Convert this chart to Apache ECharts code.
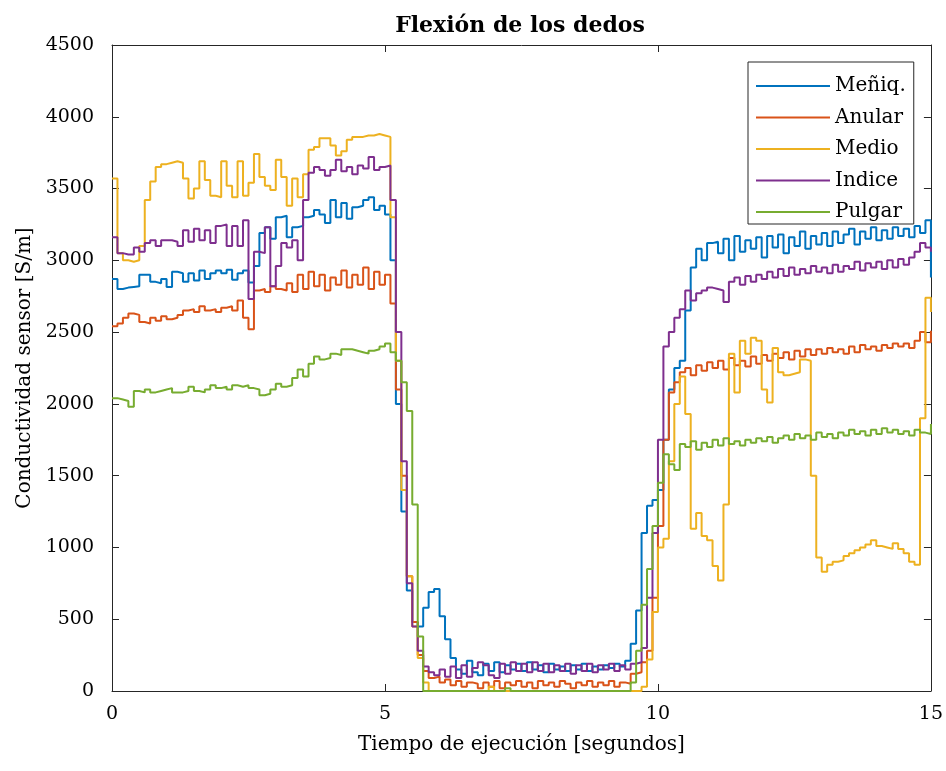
<!DOCTYPE html>
<html>
<head>
<meta charset="utf-8">
<script src="https://cdn.jsdelivr.net/npm/echarts@6/dist/echarts.min.js"></script>
<style>
  html, body { margin: 0; padding: 0; background: #fff; }
  #main { width: 946px; height: 771px; }
</style>
</head>
<body>
<div id="main"></div>
<script>
// muestreo cada 0.1 s, de 0 a 15 s
const dt = 0.1
const nombres = ['Meñiq.', 'Anular', 'Medio', 'Indice', 'Pulgar']
const colores = ['#0072BD', '#D95319', '#EDB120', '#7E2F8E', '#77AC30']
const xTicks = [0, 5, 10, 15]
const yTicks = [0, 500, 1000, 1500, 2000, 2500, 3000, 3500, 4000, 4500]

const meniq = [
  2870, 2800, 2810, 2815, 2820, 2900, 2900, 2850, 2840, 2870,
  2815, 2920, 2910, 2850, 2910, 2860, 2930, 2870, 2910, 2930,
  2910, 2935, 2865, 2910, 2930, 2845, 2960, 3190, 3230, 3150,
  3300, 3310, 3160, 3230, 3240, 3300, 3310, 3350, 3320, 3260,
  3420, 3300, 3400, 3290, 3370, 3380, 3420, 3440, 3350, 3380,
  3320, 3000, 2000, 1250, 700, 480, 450, 580, 690, 710,
  520, 360, 230, 150, 120, 210, 130, 110, 190, 140,
  200, 130, 180, 150, 190, 140, 200, 150, 180, 130,
  190, 150, 170, 140, 180, 150, 190, 140, 170, 150,
  180, 160, 190, 170, 210, 330, 560, 1100, 1290, 1330,
  1400, 1750, 2100, 2250, 2300, 2650, 2950, 3080, 3000, 3120,
  3130, 3050, 3150, 3000, 3170, 3060, 3140, 3080, 3160, 3020,
  3170, 3090, 3180, 3050, 3160, 3100, 3200, 3080, 3170, 3110,
  3190, 3100, 3200, 3120, 3180, 3220, 3110, 3200, 3150, 3230,
  3140, 3210, 3150, 3230, 3170, 3220, 3160, 3240, 3190, 3280,
  2880
]
const anular = [
  2540, 2560, 2600, 2630, 2620, 2570, 2560, 2600, 2580, 2610,
  2590, 2600, 2620, 2650, 2660, 2640, 2680, 2650, 2660, 2640,
  2670, 2680, 2650, 2720, 2600, 2520, 2790, 2800, 2780, 2820,
  2800, 2790, 2840, 2780, 2900, 2800, 2920, 2820, 2900, 2790,
  2880, 2830, 2930, 2810, 2900, 2830, 2950, 2800, 2920, 2830,
  2900, 2700, 2100, 1500, 800, 480, 250, 140, 90, 100,
  60, 80, 40, 70, 30, 60, 50, 20, 60, 30,
  70, 20, 60, 40, 70, 30, 60, 20, 70, 40,
  60, 30, 70, 50, 20, 60, 40, 70, 30, 60,
  40, 70, 30, 60, 50, 120, 130, 200, 280, 650,
  1150, 1750, 2080, 2150, 2220, 2250, 2200, 2270, 2230, 2290,
  2250, 2300, 2240, 2320, 2270, 2300, 2260, 2330, 2280, 2340,
  2300, 2350, 2320, 2360, 2310, 2370, 2330, 2380, 2340, 2380,
  2350, 2390, 2360, 2380, 2350, 2400, 2360, 2410, 2380, 2400,
  2370, 2410, 2390, 2420, 2400, 2420, 2390, 2440, 2500, 2430,
  2510
]
const medio = [
  3570, 3050, 3000, 2990, 3000, 3100, 3420, 3550, 3650, 3670,
  3680, 3690, 3680, 3570, 3430, 3500, 3690, 3560, 3450, 3440,
  3690, 3520, 3440, 3690, 3450, 3540, 3740, 3580, 3520, 3490,
  3700, 3580, 3380, 3570, 3440, 3600, 3770, 3790, 3850, 3850,
  3800, 3730, 3760, 3840, 3860, 3860, 3870, 3870, 3880, 3870,
  3860, 3300, 2300, 1400, 800, 450, 230, 60, 0, 0,
  0, 0, 0, 0, 0, 0, 0, 0, 0, 30,
  0, 0, 0, 0, 0, 0, 0, 0, 0, 0,
  0, 0, 0, 0, 0, 0, 0, 0, 0, 0,
  0, 0, 0, 0, 0, 0, 0, 30, 220, 550,
  1000, 1060, 1600, 2000, 2190, 1930, 1130, 1240, 1080, 1050,
  870, 770, 1300, 2350, 2080, 2440, 2350, 2460, 2440, 2100,
  2010, 2390, 2220, 2200, 2210, 2220, 2310, 2300, 1500, 930,
  830, 880, 900, 910, 940, 960, 980, 1000, 1020, 1050,
  1010, 1000, 990, 1030, 990, 960, 900, 880, 1900, 2740,
  2640
]
const indice = [
  3160, 3050, 3040, 3040, 3090, 3060, 3120, 3140, 3100, 3140,
  3140, 3130, 3100, 3210, 3130, 3220, 3140, 3210, 3120, 3240,
  3250, 3100, 3240, 3100, 3280, 2730, 3060, 3050, 3230, 2820,
  2960, 3120, 3090, 3140, 3000, 3420, 3610, 3650, 3630, 3590,
  3630, 3700, 3620, 3650, 3600, 3660, 3640, 3720, 3630, 3650,
  3660, 3420, 2500, 1600, 750, 450, 280, 170, 130, 110,
  150, 100, 170, 90, 180, 100, 160, 200, 180, 110,
  90, 190, 120, 200, 140, 190, 130, 200, 140, 190,
  130, 180, 140, 190, 120, 180, 140, 190, 130, 180,
  150, 190, 140, 180, 150, 190, 200, 300, 650, 1100,
  1750, 2400, 2500, 2600, 2660, 2790, 2720, 2770, 2790, 2810,
  2800, 2790, 2710, 2850, 2880, 2830, 2890, 2850, 2900, 2870,
  2920, 2880, 2940, 2890, 2950, 2900, 2940, 2910, 2960, 2920,
  2950, 2910, 2970, 2920, 2960, 2940, 2990, 2930, 2980, 2950,
  2990, 2940, 3000, 2950, 3010, 2970, 3020, 3060, 3120, 3090,
  3060
]
const pulgar = [
  2040, 2030, 2020, 1980, 2090, 2080, 2100, 2080, 2090, 2100,
  2110, 2080, 2080, 2090, 2120, 2090, 2080, 2100, 2130, 2110,
  2120, 2100, 2130, 2120, 2130, 2110, 2100, 2060, 2070, 2100,
  2140, 2120, 2130, 2180, 2240, 2190, 2280, 2330, 2310, 2320,
  2350, 2340, 2380, 2380, 2370, 2360, 2350, 2370, 2380, 2400,
  2420, 2360, 2300, 2150, 1950, 1300, 380, 0, 0, 0,
  0, 0, 0, 0, 0, 0, 0, 0, 0, 0,
  0, 0, 20, 0, 0, 0, 0, 0, 0, 0,
  0, 0, 0, 0, 0, 0, 0, 0, 0, 0,
  0, 0, 0, 0, 0, 60, 280, 600, 850, 1150,
  1450, 1650, 1580, 1540, 1720, 1700, 1740, 1680, 1730, 1700,
  1750, 1710, 1760, 1720, 1740, 1710, 1750, 1730, 1760, 1740,
  1770, 1730, 1760, 1780, 1750, 1790, 1760, 1780, 1750, 1800,
  1770, 1790, 1760, 1800, 1780, 1820, 1790, 1810, 1780, 1820,
  1790, 1830, 1800, 1820, 1790, 1810, 1780, 1820, 1800, 1790,
  1860
]
const senales = [meniq, anular, medio, indice, pulgar]

const fuente = 'DejaVu Serif'
const gris = '#262626'

var myChart = echarts.init(document.querySelector('#main'))

const ejeX = (pos, conTexto) => ({
  type: 'value',
  position: pos,
  min: xTicks[0],
  max: xTicks[xTicks.length - 1],
  interval: 5,
  axisLine: { show: true, onZero: false, lineStyle: { color: gris, width: 1 } },
  axisTick: { show: true, inside: true, length: 7, lineStyle: { color: gris } },
  axisLabel: { show: conTexto, color: '#000', fontFamily: fuente, fontSize: 19, margin: 14 },
  splitLine: { show: false }
})
const ejeY = (pos, conTexto) => ({
  type: 'value',
  position: pos,
  min: yTicks[0],
  max: yTicks[yTicks.length - 1],
  interval: 500,
  axisLine: { show: true, onZero: false, lineStyle: { color: gris, width: 1 } },
  axisTick: { show: true, inside: true, length: 7, lineStyle: { color: gris } },
  axisLabel: {
    show: conTexto, color: '#000', fontFamily: fuente, fontSize: 19, margin: 18,
    formatter: v => String(v)
  },
  splitLine: { show: false }
})

const option = {
  animation: false,
  backgroundColor: '#fff',
  title: {
    text: 'Flexión de los dedos',
    left: 515,
    top: 10,
    textAlign: 'center',
    textStyle: { fontFamily: fuente, fontSize: 22, fontWeight: 'bold', color: '#000' }
  },
  grid: { left: 112, right: 13, top: 45, bottom: 80, containLabel: false },
  xAxis: [
    Object.assign(ejeX('bottom', true), {
      name: 'Tiempo de ejecución [segundos]',
      nameLocation: 'middle',
      nameGap: 44,
      nameTextStyle: { fontFamily: fuente, fontSize: 20, color: '#000' }
    }),
    ejeX('top', false)
  ],
  yAxis: [
    Object.assign(ejeY('left', true), {
      name: 'Conductividad sensor [S/m]',
      nameLocation: 'middle',
      nameGap: 62,
      nameTextStyle: { fontFamily: fuente, fontSize: 20, color: '#000' }
    }),
    ejeY('right', false)
  ],
  legend: {
    orient: 'vertical',
    left: 748,
    top: 62,
    padding: [14, 8, 2, 8],
    icon: 'rect',
    itemWidth: 74,
    itemHeight: 2,
    itemGap: 11.5,
    backgroundColor: '#fff',
    borderColor: gris,
    borderWidth: 1,
    textStyle: { fontFamily: fuente, fontSize: 20, lineHeight: 20, color: '#000' },
    data: nombres
  },
  series: senales.map((s, k) => ({
    name: nombres[k],
    type: 'line',
    step: 'end',
    symbol: 'none',
    color: colores[k],
    lineStyle: { width: 2, color: colores[k] },
    data: s.map((v, i) => [+(i * dt).toFixed(1), v])
  }))
}
myChart.setOption(option)
</script>
</body>
</html>
